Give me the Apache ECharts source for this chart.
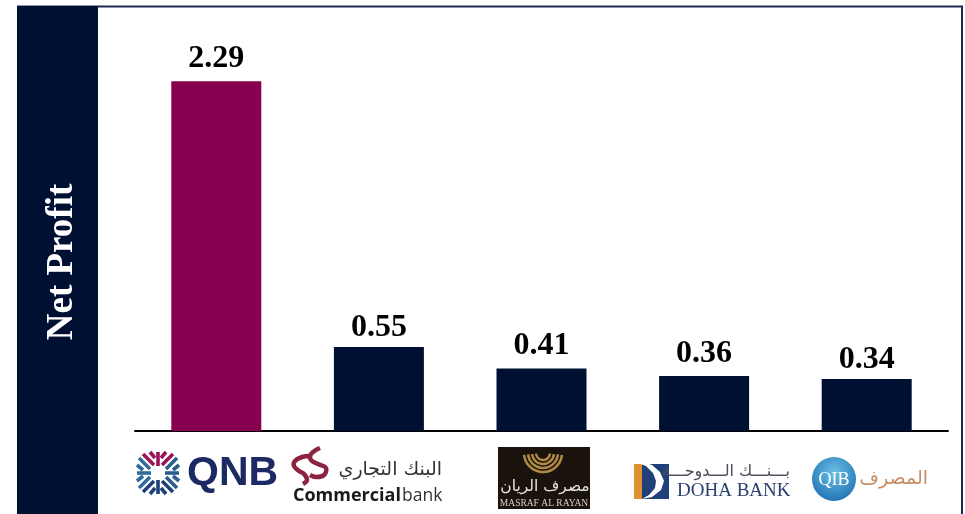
<!DOCTYPE html>
<html><head><meta charset="utf-8">
<style>html,body{margin:0;padding:0;background:#fff}#c{width:965px;height:514px}</style>
<script src="https://cdn.jsdelivr.net/npm/echarts@6/dist/echarts.min.js"></script>
</head><body><div id="c"></div>
<script>
const categories = ['QNB','Commercial bank','Masraf Al Rayan','Doha Bank','QIB'];
const netProfit = [2.29,0.55,0.41,0.36,0.34];
const barColors = ['#87004f','#001033','#001033','#001033','#001033'];
const labelGaps = [7,3,7,6,3];
const axisTitle = 'Net Profit';

const NAVY='#001033', LOGO='#1b2a63', MAROON='#8c2340';
const g=[];
// frame and side panel
g.push({type:'line',shape:{x1:17,y1:6.5,x2:963,y2:6.5},style:{stroke:'#1c2a52',lineWidth:2}});
g.push({type:'line',shape:{x1:962,y1:6,x2:962,y2:514},style:{stroke:'#1c2a52',lineWidth:2}});
g.push({type:'rect',shape:{x:17,y:6,width:81,height:508},style:{fill:NAVY}});
g.push({type:'text',x:62,y:262,rotation:Math.PI/2,style:{text:axisTitle,fill:'#fff',font:'bold 37px "Liberation Serif"',align:'center',verticalAlign:'middle'}});

// QNB logo
const cx=158,cy=473;
[[0,-1,'#9c1458'],[1,0,'#2a5c8e'],[0,1,'#1f3f78'],[-1,0,'#2f6a9c']].forEach(([dx,dy,col])=>{
  const px=-dy,py=dx;
  const seg=(r0,o0,r1,o1)=>g.push({type:'line',shape:{x1:cx+dx*r0+px*o0,y1:cy+dy*r0+py*o0,x2:cx+dx*r1+px*o1,y2:cy+dy*r1+py*o1},style:{stroke:col,lineWidth:3.6}});
  seg(7,0,21,0);
  [1,-1].forEach(s=>{seg(8,s*4,19,s*15);seg(15,s*3,21,s*8);});
});

g.push({type:'text',x:187,y:474,style:{text:'QNB',fill:LOGO,font:'bold 41px "Liberation Sans"',align:'left',verticalAlign:'middle'}});

// Commercial bank logo
g.push({type:'polyline',shape:{smooth:0.4,points:[[310,456],[302,457],[295,461],[294,466],[299,471],[304,474],[307,480],[303,484]]},style:{stroke:MAROON,lineWidth:4.5,fill:null}});
g.push({type:'polyline',shape:{smooth:0.4,points:[[320,448],[311,454],[311,460],[318,464],[326,468],[324,475],[316,477],[310,475]]},style:{stroke:MAROON,lineWidth:4.5,fill:null}});
g.push({type:'text',x:442,y:470,style:{text:'البنك التجاري',fill:'#333',font:'19px "DejaVu Sans"',align:'right',verticalAlign:'middle'}});
g.push({type:'text',x:293,y:496,style:{text:'Commercial',fill:'#1a1a1a',font:'bold 18px "Open Sans"',align:'left',verticalAlign:'middle'}});
g.push({type:'text',x:402,y:496,style:{text:'bank',fill:'#333',font:'17.5px "Open Sans"',align:'left',verticalAlign:'middle'}});

// Masraf Al Rayan logo
g.push({type:'rect',shape:{x:498,y:447,width:92,height:62},style:{fill:'#1a120c'}});
[19,15,11,7].forEach(r=>g.push({type:'arc',shape:{cx:543,cy:453,r:r,startAngle:0.1,endAngle:Math.PI-0.1},style:{stroke:'#b08a45',lineWidth:2.5,fill:null}}));
g.push({type:'text',x:545,y:487,style:{text:'مصرف الريان',fill:'#e8e4da',font:'15.5px "DejaVu Sans"',align:'center',verticalAlign:'middle'}});
g.push({type:'text',x:544,y:503,style:{text:'MASRAF AL RAYAN',fill:'#d8d4ca',font:'9.5px "Liberation Serif"',align:'center',verticalAlign:'middle'}});

// Doha Bank logo
g.push({type:'rect',shape:{x:634,y:464,width:9,height:35},style:{fill:'#e0912f'}});
g.push({type:'rect',shape:{x:642,y:464,width:27,height:35},style:{fill:'#20407a'}});
g.push({type:'polygon',shape:{points:[[630,460],[640,461],[652,465],[660,472],[664,481],[661,490],[652,497],[642,499],[649,495],[655,488],[656,481],[653,473],[646,466]]},style:{fill:'#fff'}});
g.push({type:'text',x:790,y:472,style:{text:'بـــنـــك الـــدوحـــة',fill:'#4a4f5c',font:'16px "DejaVu Sans"',align:'right',verticalAlign:'middle'}});
g.push({type:'text',x:677,y:491,style:{text:'DOHA BANK',fill:'#2a4070',font:'19px "Liberation Serif"',align:'left',verticalAlign:'middle'}});

// QIB logo
g.push({type:'circle',shape:{cx:834,cy:479,r:22},style:{fill:new echarts.graphic.RadialGradient(0.5,0.35,0.7,[{offset:0,color:'#6cc0e6'},{offset:1,color:'#1c6fb0'}])}});
g.push({type:'text',x:834,y:480,style:{text:'QIB',fill:'#fff',font:'18px "Liberation Serif"',align:'center',verticalAlign:'middle'}});
g.push({type:'text',x:928,y:479,style:{text:'المصرف',fill:'#c98d62',font:'19px "DejaVu Sans"',align:'right',verticalAlign:'middle'}});

const chart=echarts.init(document.getElementById('c'));
chart.setOption({
  animation:false,
  backgroundColor:'#fff',
  grid:{left:135,right:17,top:11,bottom:83},
  xAxis:{type:'category',data:categories,axisTick:{show:false},axisLabel:{show:false},
    axisLine:{lineStyle:{color:'#000',width:2}}},
  yAxis:{type:'value',min:0,max:2.75,show:false,splitLine:{show:false}},
  series:[{type:'bar',barWidth:90,
    data:netProfit.map((v,i)=>({value:v,itemStyle:{color:barColors[i]},label:{distance:labelGaps[i]}})),
    label:{show:true,position:'top',color:'#000',fontFamily:'Liberation Serif',fontWeight:'bold',fontSize:32,formatter:p=>p.value.toFixed(2)}}],
  graphic:g
});
</script></body></html>
